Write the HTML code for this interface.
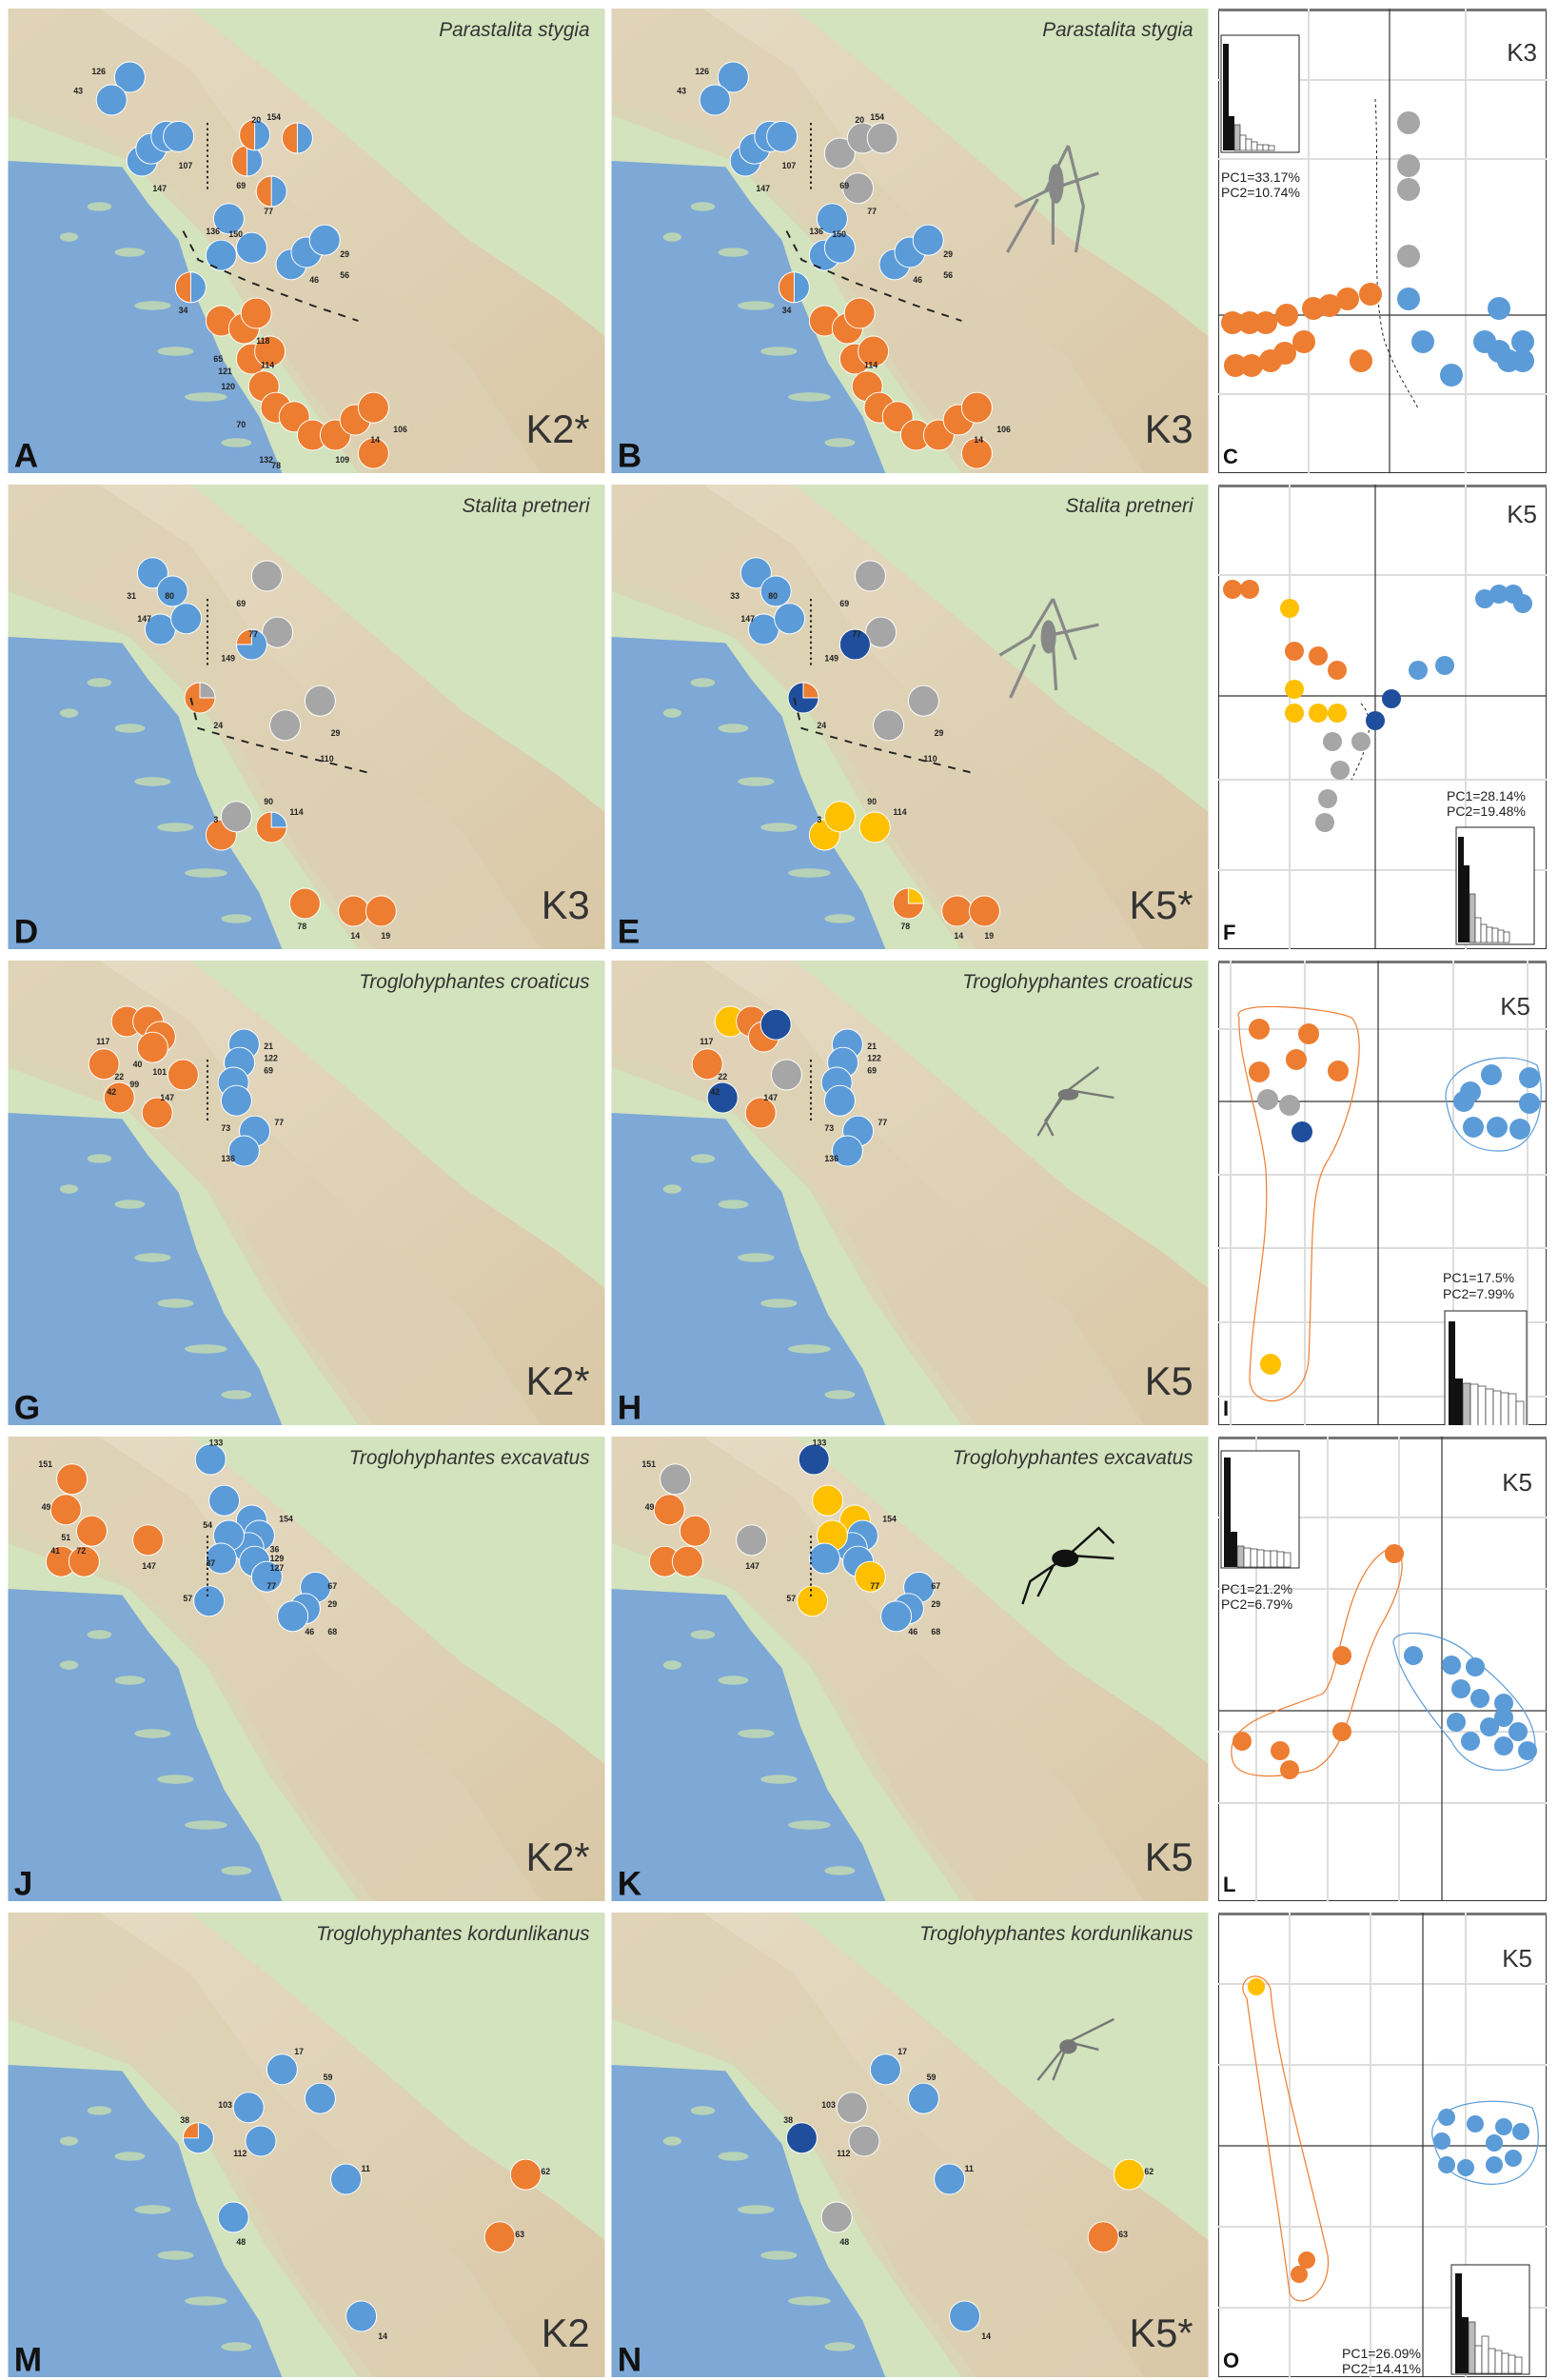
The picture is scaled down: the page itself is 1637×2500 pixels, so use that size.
<!DOCTYPE html><html><head><meta charset="utf-8"><style>
body{margin:0;width:1637px;height:2500px;background:#fff;position:relative;overflow:hidden;font-family:"Liberation Sans",sans-serif}
.p{position:absolute;width:628px;height:488px}
.q{position:absolute;left:1280px;width:345px;height:488px}
svg{display:block}
.sp{font-style:italic;font-size:13px;fill:#333}
.k{font-size:26px;fill:#333}
.L{font-size:22px;font-weight:bold;fill:#111}
.n{font-size:5.5px;font-weight:bold;fill:#222}
.pc{font-size:14px;fill:#222}
</style></head><body>
<svg width="0" height="0" style="position:absolute">
<defs>
<linearGradient id="lg" x1="0" y1="0" x2="1" y2="1"><stop offset="0" stop-color="#e6dcc6"/><stop offset="1" stop-color="#d9c8a6"/></linearGradient>
<symbol id="map" viewBox="0 0 392 305">
<rect width="392" height="305" fill="#d2e3bd"/>
<polygon fill="url(#lg)" points="0,0 120,0 170,40 230,90 300,150 360,190 392,215 392,305 240,305 190,240 150,170 110,120 60,80 0,60"/>
<polygon fill="#ddd0b2" opacity=".7" points="0,0 60,0 120,40 170,110 230,170 300,230 350,305 230,305 170,220 130,150 80,100 0,70"/>
<polygon fill="#7ea8d6" points="0,100 75,104 92,128 112,152 124,190 142,232 165,268 180,305 0,305"/>
<g fill="#c6ddb0" opacity=".8"><ellipse cx="60" cy="130" rx="8" ry="3"/><ellipse cx="80" cy="160" rx="10" ry="3"/><ellipse cx="95" cy="195" rx="12" ry="3"/><ellipse cx="110" cy="225" rx="12" ry="3"/><ellipse cx="130" cy="255" rx="14" ry="3"/><ellipse cx="150" cy="285" rx="10" ry="3"/><ellipse cx="40" cy="150" rx="6" ry="3"/></g>
</symbol>
</defs></svg>

<!-- ROW 1 -->
<div class="p" style="left:8px;top:9px"><svg width="628" height="488" viewBox="0 0 392 305"><use href="#map"/>
<g stroke="#fff" stroke-width=".6">
<circle cx="80" cy="45" r="10" fill="#5b9bd8"/><circle cx="68" cy="60" r="10" fill="#5b9bd8"/>
<circle cx="88" cy="100" r="10" fill="#5b9bd8"/><circle cx="94" cy="92" r="10" fill="#5b9bd8"/><circle cx="104" cy="84" r="10" fill="#5b9bd8"/><circle cx="112" cy="84" r="10" fill="#5b9bd8"/>
<circle cx="157" cy="100" r="10" fill="#5b9bd8"/><path d="M157,90 A10 10 0 0 0 157,110Z" fill="#ed7d31"/>
<circle cx="162" cy="83" r="10" fill="#5b9bd8"/><path d="M162,73 A10 10 0 0 0 162,93Z" fill="#ed7d31"/>
<circle cx="190" cy="85" r="10" fill="#5b9bd8"/><path d="M190,75 A10 10 0 0 0 190,95Z" fill="#ed7d31"/>
<circle cx="173" cy="120" r="10" fill="#5b9bd8"/><path d="M173,110 A10 10 0 0 0 173,130Z" fill="#ed7d31"/>
<circle cx="145" cy="138" r="10" fill="#5b9bd8"/><circle cx="140" cy="162" r="10" fill="#5b9bd8"/><circle cx="160" cy="157" r="10" fill="#5b9bd8"/>
<circle cx="186" cy="168" r="10" fill="#5b9bd8"/><circle cx="196" cy="160" r="10" fill="#5b9bd8"/><circle cx="208" cy="152" r="10" fill="#5b9bd8"/>
<circle cx="120" cy="183" r="10" fill="#5b9bd8"/><path d="M120,173 A10 10 0 0 0 120,193Z" fill="#ed7d31"/>
<circle cx="140" cy="205" r="10" fill="#ed7d31"/><circle cx="155" cy="210" r="10" fill="#ed7d31"/><circle cx="163" cy="200" r="10" fill="#ed7d31"/>
<circle cx="160" cy="230" r="10" fill="#ed7d31"/><circle cx="172" cy="225" r="10" fill="#ed7d31"/><circle cx="168" cy="248" r="10" fill="#ed7d31"/>
<circle cx="176" cy="262" r="10" fill="#ed7d31"/><circle cx="188" cy="268" r="10" fill="#ed7d31"/><circle cx="200" cy="280" r="10" fill="#ed7d31"/><circle cx="215" cy="280" r="10" fill="#ed7d31"/><circle cx="228" cy="270" r="10" fill="#ed7d31"/><circle cx="240" cy="262" r="10" fill="#ed7d31"/><circle cx="240" cy="292" r="10" fill="#ed7d31"/></g>
<path d="M131,75 V120" stroke="#222" stroke-dasharray="1.5,2" stroke-width="1.2"/>
<path d="M115,146 L125,165 L160,180 L200,195 L230,205" stroke="#222" stroke-dasharray="5,5" stroke-width="1.2" fill="none"/>
<g class="n"><text x="55" y="43">126</text><text x="43" y="56">43</text><text x="112" y="105">107</text><text x="95" y="120">147</text><text x="150" y="118">69</text><text x="160" y="75">20</text><text x="170" y="73">154</text><text x="168" y="135">77</text><text x="130" y="148">136</text><text x="145" y="150">150</text><text x="218" y="163">29</text><text x="218" y="177">56</text><text x="198" y="180">46</text><text x="112" y="200">34</text><text x="135" y="232">65</text><text x="138" y="240">121</text><text x="163" y="220">118</text><text x="140" y="250">120</text><text x="166" y="236">114</text><text x="150" y="275">70</text><text x="253" y="278">106</text><text x="165" y="298">132</text><text x="173" y="302">78</text><text x="215" y="298">109</text><text x="238" y="285">14</text></g>
<text class="sp" x="382" y="18" text-anchor="end">Parastalita stygia</text><text class="k" x="382" y="285" text-anchor="end">K2*</text><text class="L" x="4" y="301">A</text></svg></div>

<div class="p" style="left:642px;top:9px"><svg width="628" height="488" viewBox="0 0 392 305"><use href="#map"/>
<g stroke="#fff" stroke-width=".6">
<circle cx="80" cy="45" r="10" fill="#5b9bd8"/><circle cx="68" cy="60" r="10" fill="#5b9bd8"/>
<circle cx="88" cy="100" r="10" fill="#5b9bd8"/><circle cx="94" cy="92" r="10" fill="#5b9bd8"/><circle cx="104" cy="84" r="10" fill="#5b9bd8"/><circle cx="112" cy="84" r="10" fill="#5b9bd8"/>
<circle cx="150" cy="95" r="10" fill="#a6a6a6"/><circle cx="165" cy="85" r="10" fill="#a6a6a6"/><circle cx="178" cy="85" r="10" fill="#a6a6a6"/><circle cx="162" cy="118" r="10" fill="#a6a6a6"/>
<circle cx="145" cy="138" r="10" fill="#5b9bd8"/><circle cx="140" cy="162" r="10" fill="#5b9bd8"/><circle cx="150" cy="157" r="10" fill="#5b9bd8"/>
<circle cx="186" cy="168" r="10" fill="#5b9bd8"/><circle cx="196" cy="160" r="10" fill="#5b9bd8"/><circle cx="208" cy="152" r="10" fill="#5b9bd8"/>
<circle cx="120" cy="183" r="10" fill="#5b9bd8"/><path d="M120,173 A10 10 0 0 0 120,193Z" fill="#ed7d31"/>
<circle cx="140" cy="205" r="10" fill="#ed7d31"/><circle cx="155" cy="210" r="10" fill="#ed7d31"/><circle cx="163" cy="200" r="10" fill="#ed7d31"/>
<circle cx="160" cy="230" r="10" fill="#ed7d31"/><circle cx="172" cy="225" r="10" fill="#ed7d31"/><circle cx="168" cy="248" r="10" fill="#ed7d31"/>
<circle cx="176" cy="262" r="10" fill="#ed7d31"/><circle cx="188" cy="268" r="10" fill="#ed7d31"/><circle cx="200" cy="280" r="10" fill="#ed7d31"/><circle cx="215" cy="280" r="10" fill="#ed7d31"/><circle cx="228" cy="270" r="10" fill="#ed7d31"/><circle cx="240" cy="262" r="10" fill="#ed7d31"/><circle cx="240" cy="292" r="10" fill="#ed7d31"/></g>
<path d="M131,75 V120" stroke="#222" stroke-dasharray="1.5,2" stroke-width="1.2"/>
<path d="M115,146 L125,165 L160,180 L200,195 L230,205" stroke="#222" stroke-dasharray="5,5" stroke-width="1.2" fill="none"/>
<g stroke="#888" stroke-width="2" fill="none"><path d="M300,90 L285,120 L265,130 M300,90 L310,130 L305,160 M285,120 L320,108 M280,125 L260,160 M290,125 L290,155"/><ellipse cx="292" cy="115" rx="4" ry="12" fill="#888"/></g>
<g class="n"><text x="55" y="43">126</text><text x="43" y="56">43</text><text x="112" y="105">107</text><text x="95" y="120">147</text><text x="150" y="118">69</text><text x="160" y="75">20</text><text x="170" y="73">154</text><text x="168" y="135">77</text><text x="130" y="148">136</text><text x="145" y="150">150</text><text x="218" y="163">29</text><text x="218" y="177">56</text><text x="198" y="180">46</text><text x="112" y="200">34</text><text x="166" y="236">114</text><text x="253" y="278">106</text><text x="238" y="285">14</text></g>
<text class="sp" x="382" y="18" text-anchor="end">Parastalita stygia</text><text class="k" x="382" y="285" text-anchor="end">K3</text><text class="L" x="4" y="301">B</text></svg></div>

<div class="q" style="top:9px"><svg width="345" height="488" viewBox="0 0 345 488"><rect x=".5" y=".5" width="344" height="487" fill="#fff" stroke="#333"/><rect width="345" height="3" fill="#777"/>
<g stroke="#ddd" stroke-width="2"><path d="M95,0V488M260,0V488M0,75H345M0,158H345M0,405H345"/></g>
<g stroke="#333" stroke-width="1.2"><path d="M180,0V488M0,322H345"/></g>
<path d="M165,95 C170,180 160,300 175,350 C190,390 200,400 210,420" stroke="#222" stroke-dasharray="3,3" fill="none"/>
<rect x="3" y="28" width="82" height="123" fill="#fff" stroke="#222"/><g fill="#111"><rect x="5" y="37" width="6" height="112"/><rect x="11" y="113" width="6" height="36"/></g><g fill="#fff" stroke="#333" stroke-width=".7"><rect x="17" y="122" width="6" height="27" fill="#bbb"/><rect x="23" y="133" width="6" height="16"/><rect x="29" y="137" width="6" height="12"/><rect x="35" y="140" width="6" height="9"/><rect x="41" y="143" width="6" height="6"/><rect x="47" y="143" width="6" height="6"/><rect x="53" y="144" width="6" height="5"/></g>
<text class="pc" x="3" y="182">PC1=33.17%</text><text class="pc" x="3" y="198">PC2=10.74%</text>
<text class="k" x="335" y="55" text-anchor="end">K3</text>
<g fill="#a6a6a6"><circle cx="200" cy="120" r="12"/><circle cx="200" cy="165" r="12"/><circle cx="200" cy="190" r="12"/><circle cx="200" cy="260" r="12"/></g>
<g fill="#ed7d31"><circle cx="15" cy="330" r="12"/><circle cx="33" cy="330" r="12"/><circle cx="50" cy="330" r="12"/><circle cx="72" cy="322" r="12"/><circle cx="100" cy="315" r="12"/><circle cx="117" cy="312" r="12"/><circle cx="136" cy="305" r="12"/><circle cx="90" cy="350" r="12"/><circle cx="18" cy="375" r="12"/><circle cx="35" cy="375" r="12"/><circle cx="55" cy="370" r="12"/><circle cx="70" cy="362" r="12"/><circle cx="160" cy="300" r="12"/><circle cx="150" cy="370" r="12"/></g>
<g fill="#5b9bd8"><circle cx="200" cy="305" r="12"/><circle cx="215" cy="350" r="12"/><circle cx="295" cy="315" r="12"/><circle cx="280" cy="350" r="12"/><circle cx="295" cy="360" r="12"/><circle cx="305" cy="370" r="12"/><circle cx="320" cy="350" r="12"/><circle cx="320" cy="370" r="12"/><circle cx="245" cy="385" r="12"/></g>
<text class="L" x="5" y="478">C</text></svg></div>

<!-- ROW 2 -->
<div class="p" style="left:8px;top:509px"><svg width="628" height="488" viewBox="0 0 392 305"><use href="#map"/>
<g stroke="#fff" stroke-width=".6"><circle cx="95" cy="58" r="10" fill="#5b9bd8"/><circle cx="108" cy="70" r="10" fill="#5b9bd8"/><circle cx="100" cy="95" r="10" fill="#5b9bd8"/><circle cx="117" cy="88" r="10" fill="#5b9bd8"/>
<circle cx="170" cy="60" r="10" fill="#a6a6a6"/><circle cx="177" cy="97" r="10" fill="#a6a6a6"/><circle cx="160" cy="105" r="10" fill="#5b9bd8"/><path d="M160,95 A10 10 0 0 0 150,105 L160,105Z" fill="#ed7d31"/>
<circle cx="205" cy="142" r="10" fill="#a6a6a6"/><circle cx="182" cy="158" r="10" fill="#a6a6a6"/><circle cx="126" cy="140" r="10" fill="#ed7d31"/><path d="M126,130 A10 10 0 0 1 136,140 L126,140Z" fill="#a6a6a6"/>
<circle cx="140" cy="230" r="10" fill="#ed7d31"/><circle cx="173" cy="225" r="10" fill="#ed7d31"/><path d="M173,215 A10 10 0 0 1 183,225 L173,225Z" fill="#5b9bd8"/><circle cx="150" cy="218" r="10" fill="#a6a6a6"/>
<circle cx="195" cy="275" r="10" fill="#ed7d31"/><circle cx="227" cy="280" r="10" fill="#ed7d31"/><circle cx="245" cy="280" r="10" fill="#ed7d31"/></g>
<path d="M131,75 V120" stroke="#222" stroke-dasharray="1.5,2" stroke-width="1.2"/>
<path d="M120,140 L125,160 L160,170 L200,180 L240,190" stroke="#222" stroke-dasharray="5,5" stroke-width="1.2" fill="none"/>
<g class="n"><text x="78" y="75">31</text><text x="103" y="75">80</text><text x="85" y="90">147</text><text x="150" y="80">69</text><text x="158" y="100">77</text><text x="140" y="116">149</text><text x="135" y="160">24</text><text x="212" y="165">29</text><text x="205" y="182">110</text><text x="135" y="222">3</text><text x="168" y="210">90</text><text x="185" y="217">114</text><text x="190" y="292">78</text><text x="225" y="298">14</text><text x="245" y="298">19</text></g>
<text class="sp" x="382" y="18" text-anchor="end">Stalita pretneri</text><text class="k" x="382" y="285" text-anchor="end">K3</text><text class="L" x="4" y="301">D</text></svg></div>

<div class="p" style="left:642px;top:509px"><svg width="628" height="488" viewBox="0 0 392 305"><use href="#map"/>
<g stroke="#fff" stroke-width=".6"><circle cx="95" cy="58" r="10" fill="#5b9bd8"/><circle cx="108" cy="70" r="10" fill="#5b9bd8"/><circle cx="100" cy="95" r="10" fill="#5b9bd8"/><circle cx="117" cy="88" r="10" fill="#5b9bd8"/>
<circle cx="170" cy="60" r="10" fill="#a6a6a6"/><circle cx="177" cy="97" r="10" fill="#a6a6a6"/><circle cx="160" cy="105" r="10" fill="#1f4e9c"/><circle cx="126" cy="140" r="10" fill="#1f4e9c"/><path d="M126,130 A10 10 0 0 1 136,140 L126,140Z" fill="#ed7d31"/>
<circle cx="205" cy="142" r="10" fill="#a6a6a6"/><circle cx="182" cy="158" r="10" fill="#a6a6a6"/>
<circle cx="140" cy="230" r="10" fill="#ffc000"/><circle cx="173" cy="225" r="10" fill="#ffc000"/><circle cx="150" cy="218" r="10" fill="#ffc000"/>
<circle cx="195" cy="275" r="10" fill="#ed7d31"/><path d="M195,265 A10 10 0 0 1 205,275 L195,275Z" fill="#ffc000"/><circle cx="227" cy="280" r="10" fill="#ed7d31"/><circle cx="245" cy="280" r="10" fill="#ed7d31"/></g>
<path d="M131,75 V120" stroke="#222" stroke-dasharray="1.5,2" stroke-width="1.2"/>
<path d="M120,140 L125,160 L160,170 L200,180 L240,190" stroke="#222" stroke-dasharray="5,5" stroke-width="1.2" fill="none"/>
<g stroke="#888" stroke-width="2" fill="none"><path d="M290,75 L275,100 L255,112 M290,75 L305,115 M283,100 L320,92 M278,105 L262,140 M290,105 L292,135"/><ellipse cx="287" cy="100" rx="4" ry="10" fill="#888"/></g>
<g class="n"><text x="78" y="75">33</text><text x="103" y="75">80</text><text x="85" y="90">147</text><text x="150" y="80">69</text><text x="158" y="100">77</text><text x="140" y="116">149</text><text x="135" y="160">24</text><text x="212" y="165">29</text><text x="205" y="182">110</text><text x="135" y="222">3</text><text x="168" y="210">90</text><text x="185" y="217">114</text><text x="190" y="292">78</text><text x="225" y="298">14</text><text x="245" y="298">19</text></g>
<text class="sp" x="382" y="18" text-anchor="end">Stalita pretneri</text><text class="k" x="382" y="285" text-anchor="end">K5*</text><text class="L" x="4" y="301">E</text></svg></div>

<div class="q" style="top:509px"><svg width="345" height="488" viewBox="0 0 345 488"><rect x=".5" y=".5" width="344" height="487" fill="#fff" stroke="#333"/><rect width="345" height="3" fill="#777"/>
<g stroke="#ddd" stroke-width="2"><path d="M75,0V488M260,0V488M0,95H345M0,310H345M0,405H345"/></g>
<g stroke="#333" stroke-width="1.2"><path d="M165,0V488M0,222H345"/></g>
<path d="M150,230 C170,250 150,290 140,310" stroke="#222" stroke-dasharray="3,3" fill="none"/>
<text class="k" x="335" y="40" text-anchor="end">K5</text>
<g fill="#ed7d31"><circle cx="15" cy="110" r="10"/><circle cx="33" cy="110" r="10"/><circle cx="80" cy="175" r="10"/><circle cx="105" cy="180" r="10"/><circle cx="125" cy="195" r="10"/></g>
<g fill="#ffc000"><circle cx="75" cy="130" r="10"/><circle cx="80" cy="215" r="10"/><circle cx="80" cy="240" r="10"/><circle cx="105" cy="240" r="10"/><circle cx="125" cy="240" r="10"/></g>
<g fill="#5b9bd8"><circle cx="280" cy="120" r="10"/><circle cx="295" cy="115" r="10"/><circle cx="310" cy="115" r="10"/><circle cx="320" cy="125" r="10"/><circle cx="238" cy="190" r="10"/><circle cx="210" cy="195" r="10"/></g>
<g fill="#1f4e9c"><circle cx="182" cy="225" r="10"/><circle cx="165" cy="248" r="10"/></g>
<g fill="#a6a6a6"><circle cx="120" cy="270" r="10"/><circle cx="150" cy="270" r="10"/><circle cx="128" cy="300" r="10"/><circle cx="115" cy="330" r="10"/><circle cx="112" cy="355" r="10"/></g>
<text class="pc" x="240" y="332">PC1=28.14%</text><text class="pc" x="240" y="348">PC2=19.48%</text>
<rect x="250" y="360" width="82" height="123" fill="#fff" stroke="#222"/><g fill="#111"><rect x="252" y="370" width="6" height="111"/><rect x="258" y="400" width="6" height="81"/></g><g fill="#fff" stroke="#333" stroke-width=".7"><rect x="264" y="430" width="6" height="51" fill="#bbb"/><rect x="270" y="455" width="6" height="26"/><rect x="276" y="462" width="6" height="19"/><rect x="282" y="465" width="6" height="16"/><rect x="288" y="466" width="6" height="15"/><rect x="294" y="468" width="6" height="13"/><rect x="300" y="470" width="6" height="11"/></g>
<text class="L" x="5" y="478">F</text></svg></div>

<!-- ROW 3 -->
<div class="p" style="left:8px;top:1009px"><svg width="628" height="488" viewBox="0 0 392 305"><use href="#map"/>
<g stroke="#fff" stroke-width=".6" fill="#ed7d31"><circle cx="78" cy="40" r="10"/><circle cx="92" cy="40" r="10"/><circle cx="100" cy="50" r="10"/><circle cx="95" cy="57" r="10"/><circle cx="63" cy="68" r="10"/><circle cx="115" cy="75" r="10"/><circle cx="73" cy="90" r="10"/><circle cx="98" cy="100" r="10"/></g>
<g stroke="#fff" stroke-width=".6" fill="#5b9bd8"><circle cx="155" cy="55" r="10"/><circle cx="152" cy="67" r="10"/><circle cx="148" cy="80" r="10"/><circle cx="150" cy="92" r="10"/><circle cx="162" cy="112" r="10"/><circle cx="155" cy="125" r="10"/></g>
<path d="M131,65 V105" stroke="#222" stroke-dasharray="1.5,2" stroke-width="1.2"/>
<g class="n"><text x="58" y="55">117</text><text x="82" y="70">40</text><text x="70" y="78">22</text><text x="95" y="75">101</text><text x="80" y="83">99</text><text x="65" y="88">42</text><text x="100" y="92">147</text><text x="168" y="58">21</text><text x="168" y="66">122</text><text x="168" y="74">69</text><text x="140" y="112">73</text><text x="175" y="108">77</text><text x="140" y="132">136</text></g>
<text class="sp" x="382" y="18" text-anchor="end">Troglohyphantes croaticus</text><text class="k" x="382" y="285" text-anchor="end">K2*</text><text class="L" x="4" y="301">G</text></svg></div>

<div class="p" style="left:642px;top:1009px"><svg width="628" height="488" viewBox="0 0 392 305"><use href="#map"/>
<g stroke="#fff" stroke-width=".6"><circle cx="78" cy="40" r="10" fill="#ffc000"/><circle cx="92" cy="40" r="10" fill="#ed7d31"/><circle cx="100" cy="50" r="10" fill="#ed7d31"/><circle cx="108" cy="42" r="10" fill="#1f4e9c"/><circle cx="63" cy="68" r="10" fill="#ed7d31"/><circle cx="115" cy="75" r="10" fill="#a6a6a6"/><circle cx="73" cy="90" r="10" fill="#1f4e9c"/><circle cx="98" cy="100" r="10" fill="#ed7d31"/></g>
<g stroke="#fff" stroke-width=".6" fill="#5b9bd8"><circle cx="155" cy="55" r="10"/><circle cx="152" cy="67" r="10"/><circle cx="148" cy="80" r="10"/><circle cx="150" cy="92" r="10"/><circle cx="162" cy="112" r="10"/><circle cx="155" cy="125" r="10"/></g>
<path d="M131,65 V105" stroke="#222" stroke-dasharray="1.5,2" stroke-width="1.2"/>
<g stroke="#777" stroke-width="1.5" fill="none"><path d="M300,85 L320,70 M300,85 L285,105 L290,115 M300,85 L330,90 M295,90 L280,115"/><ellipse cx="300" cy="88" rx="6" ry="3" fill="#777"/></g>
<g class="n"><text x="58" y="55">117</text><text x="70" y="78">22</text><text x="65" y="88">42</text><text x="100" y="92">147</text><text x="168" y="58">21</text><text x="168" y="66">122</text><text x="168" y="74">69</text><text x="140" y="112">73</text><text x="175" y="108">77</text><text x="140" y="132">136</text></g>
<text class="sp" x="382" y="18" text-anchor="end">Troglohyphantes croaticus</text><text class="k" x="382" y="285" text-anchor="end">K5</text><text class="L" x="4" y="301">H</text></svg></div>

<div class="q" style="top:1009px"><svg width="345" height="488" viewBox="0 0 345 488"><rect x=".5" y=".5" width="344" height="487" fill="#fff" stroke="#333"/><rect width="345" height="3" fill="#777"/>
<g stroke="#ddd" stroke-width="2"><path d="M13,0V488M91,0V488M247,0V488M325,0V488M0,72H345M0,225H345M0,302H345M0,380H345M0,458H345"/></g>
<g stroke="#333" stroke-width="1.2"><path d="M168,0V488M0,148H345"/></g>
<path d="M22,60 C10,40 120,50 140,60 C160,80 140,170 115,210 C95,240 100,300 95,420 C90,470 35,475 33,440 C35,360 55,300 50,220 C45,170 20,100 22,60Z" fill="none" stroke="#ed7d31" stroke-width="1.2"/>
<path d="M240,150 C230,110 300,90 335,110 C345,140 340,200 295,200 C260,200 245,180 240,150Z" fill="none" stroke="#5b9bd8" stroke-width="1.2"/>
<g fill="#ed7d31"><circle cx="43" cy="72" r="11"/><circle cx="95" cy="77" r="11"/><circle cx="82" cy="104" r="11"/><circle cx="43" cy="117" r="11"/><circle cx="126" cy="116" r="11"/></g>
<g fill="#a6a6a6"><circle cx="52" cy="146" r="11"/><circle cx="75" cy="152" r="11"/></g><circle cx="88" cy="180" r="11" fill="#1f4e9c"/><circle cx="55" cy="424" r="11" fill="#ffc000"/>
<g fill="#5b9bd8"><circle cx="287" cy="120" r="11"/><circle cx="327" cy="123" r="11"/><circle cx="265" cy="138" r="11"/><circle cx="327" cy="150" r="11"/><circle cx="268" cy="175" r="11"/><circle cx="293" cy="175" r="11"/><circle cx="317" cy="177" r="11"/><circle cx="258" cy="148" r="11"/></g>
<text class="k" x="328" y="57" text-anchor="end">K5</text>
<text class="pc" x="236" y="338">PC1=17.5%</text><text class="pc" x="236" y="355">PC2=7.99%</text>
<rect x="238" y="368" width="86" height="122" fill="#fff" stroke="#222"/><g fill="#111"><rect x="242" y="379" width="7" height="110"/><rect x="249" y="439" width="8" height="50"/></g><g fill="#fff" stroke="#333" stroke-width=".7"><rect x="257" y="444" width="8" height="45" fill="#bbb"/><rect x="265" y="445" width="8" height="44"/><rect x="273" y="447" width="8" height="42"/><rect x="281" y="450" width="8" height="39"/><rect x="289" y="452" width="8" height="37"/><rect x="297" y="454" width="8" height="35"/><rect x="305" y="455" width="8" height="34"/><rect x="313" y="463" width="8" height="26"/></g>
<text class="L" x="5" y="478">I</text></svg></div>

<!-- ROW 4 -->
<div class="p" style="left:8px;top:1509px"><svg width="628" height="488" viewBox="0 0 392 305"><use href="#map"/>
<g stroke="#fff" stroke-width=".6" fill="#ed7d31"><circle cx="42" cy="28" r="10"/><circle cx="38" cy="48" r="10"/><circle cx="55" cy="62" r="10"/><circle cx="35" cy="82" r="10"/><circle cx="50" cy="82" r="10"/><circle cx="92" cy="68" r="10"/></g>
<g stroke="#fff" stroke-width=".6" fill="#5b9bd8"><circle cx="133" cy="15" r="10"/><circle cx="142" cy="42" r="10"/><circle cx="160" cy="55" r="10"/><circle cx="165" cy="65" r="10"/><circle cx="158" cy="73" r="10"/><circle cx="162" cy="82" r="10"/><circle cx="145" cy="65" r="10"/><circle cx="140" cy="80" r="10"/><circle cx="170" cy="92" r="10"/><circle cx="132" cy="108" r="10"/><circle cx="202" cy="99" r="10"/><circle cx="195" cy="113" r="10"/><circle cx="187" cy="118" r="10"/></g>
<path d="M131,65 V105" stroke="#222" stroke-dasharray="1.5,2" stroke-width="1.2"/>
<g class="n"><text x="132" y="6">133</text><text x="20" y="20">151</text><text x="22" y="48">49</text><text x="35" y="68">51</text><text x="28" y="77">41</text><text x="45" y="77">72</text><text x="88" y="87">147</text><text x="128" y="60">54</text><text x="178" y="56">154</text><text x="172" y="76">36</text><text x="172" y="82">129</text><text x="172" y="88">127</text><text x="170" y="100">77</text><text x="130" y="85">37</text><text x="115" y="108">57</text><text x="210" y="100">67</text><text x="210" y="112">29</text><text x="195" y="130">46</text><text x="210" y="130">68</text></g>
<text class="sp" x="382" y="18" text-anchor="end">Troglohyphantes excavatus</text><text class="k" x="382" y="285" text-anchor="end">K2*</text><text class="L" x="4" y="301">J</text></svg></div>

<div class="p" style="left:642px;top:1509px"><svg width="628" height="488" viewBox="0 0 392 305"><use href="#map"/>
<g stroke="#fff" stroke-width=".6"><circle cx="42" cy="28" r="10" fill="#a6a6a6"/><circle cx="38" cy="48" r="10" fill="#ed7d31"/><circle cx="55" cy="62" r="10" fill="#ed7d31"/><circle cx="35" cy="82" r="10" fill="#ed7d31"/><circle cx="50" cy="82" r="10" fill="#ed7d31"/><circle cx="92" cy="68" r="10" fill="#a6a6a6"/>
<circle cx="133" cy="15" r="10" fill="#1f4e9c"/><circle cx="142" cy="42" r="10" fill="#ffc000"/><circle cx="160" cy="55" r="10" fill="#ffc000"/><circle cx="165" cy="65" r="10" fill="#5b9bd8"/><circle cx="158" cy="73" r="10" fill="#5b9bd8"/><circle cx="162" cy="82" r="10" fill="#5b9bd8"/><circle cx="145" cy="65" r="10" fill="#ffc000"/><circle cx="140" cy="80" r="10" fill="#5b9bd8"/><circle cx="170" cy="92" r="10" fill="#ffc000"/><circle cx="132" cy="108" r="10" fill="#ffc000"/><circle cx="202" cy="99" r="10" fill="#5b9bd8"/><circle cx="195" cy="113" r="10" fill="#5b9bd8"/><circle cx="187" cy="118" r="10" fill="#5b9bd8"/></g>
<path d="M131,65 V105" stroke="#222" stroke-dasharray="1.5,2" stroke-width="1.2"/>
<g stroke="#111" stroke-width="1.5" fill="none"><path d="M300,78 L320,60 L330,70 M300,78 L275,95 L270,110 M300,78 L330,80 M290,85 L280,105"/><ellipse cx="298" cy="80" rx="8" ry="5" fill="#111"/></g>
<g class="n"><text x="132" y="6">133</text><text x="20" y="20">151</text><text x="22" y="48">49</text><text x="88" y="87">147</text><text x="178" y="56">154</text><text x="170" y="100">77</text><text x="115" y="108">57</text><text x="210" y="100">67</text><text x="210" y="112">29</text><text x="195" y="130">46</text><text x="210" y="130">68</text></g>
<text class="sp" x="382" y="18" text-anchor="end">Troglohyphantes excavatus</text><text class="k" x="382" y="285" text-anchor="end">K5</text><text class="L" x="4" y="301">K</text></svg></div>

<div class="q" style="top:1509px"><svg width="345" height="488" viewBox="0 0 345 488"><rect x=".5" y=".5" width="344" height="487" fill="#fff" stroke="#333"/><rect width="345" height="3" fill="#777"/>
<g stroke="#ddd" stroke-width="2"><path d="M40,0V488M115,0V488M190,0V488M0,85H345M0,160H345M0,310H345M0,385H345"/></g>
<g stroke="#333" stroke-width="1.2"><path d="M235,0V488M0,288H345"/></g>
<rect x="3" y="15" width="82" height="123" fill="#fff" stroke="#222"/><g fill="#111"><rect x="6" y="22" width="7" height="115"/><rect x="13" y="100" width="7" height="37"/></g><g fill="#fff" stroke="#333" stroke-width=".7"><rect x="20" y="115" width="7" height="22" fill="#bbb"/><rect x="27" y="117" width="7" height="20"/><rect x="34" y="118" width="7" height="19"/><rect x="41" y="119" width="7" height="18"/><rect x="48" y="120" width="7" height="17"/><rect x="55" y="120" width="7" height="17"/><rect x="62" y="121" width="7" height="16"/><rect x="69" y="122" width="7" height="15"/></g>
<text class="pc" x="3" y="165">PC1=21.2%</text><text class="pc" x="3" y="181">PC2=6.79%</text>
<text class="k" x="330" y="57" text-anchor="end">K5</text>
<path d="M15,340 C5,300 60,290 110,270 C130,250 130,150 175,120 C200,110 200,150 170,200 C140,260 140,330 100,350 C60,360 20,360 15,340Z" fill="none" stroke="#ed7d31" stroke-width="1.2"/>
<path d="M185,220 C175,200 240,200 270,235 C300,260 345,300 330,340 C300,360 260,350 245,320 C220,290 190,250 185,220Z" fill="none" stroke="#5b9bd8" stroke-width="1.2"/>
<g fill="#ed7d31"><circle cx="185" cy="123" r="10"/><circle cx="130" cy="230" r="10"/><circle cx="25" cy="320" r="10"/><circle cx="65" cy="330" r="10"/><circle cx="75" cy="350" r="10"/><circle cx="130" cy="310" r="10"/></g>
<g fill="#5b9bd8"><circle cx="205" cy="230" r="10"/><circle cx="245" cy="240" r="10"/><circle cx="270" cy="242" r="10"/><circle cx="255" cy="265" r="10"/><circle cx="275" cy="275" r="10"/><circle cx="300" cy="280" r="10"/><circle cx="300" cy="295" r="10"/><circle cx="250" cy="300" r="10"/><circle cx="285" cy="305" r="10"/><circle cx="315" cy="310" r="10"/><circle cx="265" cy="320" r="10"/><circle cx="300" cy="325" r="10"/><circle cx="325" cy="330" r="10"/></g>
<text class="L" x="5" y="478">L</text></svg></div>

<!-- ROW 5 -->
<div class="p" style="left:8px;top:2009px"><svg width="628" height="488" viewBox="0 0 392 305"><use href="#map"/>
<g stroke="#fff" stroke-width=".6"><circle cx="125" cy="148" r="10" fill="#5b9bd8"/><path d="M125,138 A10 10 0 0 0 115,148 L125,148Z" fill="#ed7d31"/><circle cx="158" cy="128" r="10" fill="#5b9bd8"/><circle cx="180" cy="103" r="10" fill="#5b9bd8"/><circle cx="205" cy="122" r="10" fill="#5b9bd8"/><circle cx="166" cy="150" r="10" fill="#5b9bd8"/><circle cx="222" cy="175" r="10" fill="#5b9bd8"/><circle cx="148" cy="200" r="10" fill="#5b9bd8"/><circle cx="232" cy="265" r="10" fill="#5b9bd8"/><circle cx="340" cy="172" r="10" fill="#ed7d31"/><circle cx="323" cy="213" r="10" fill="#ed7d31"/></g>
<g class="n"><text x="113" y="138">38</text><text x="138" y="128">103</text><text x="148" y="160">112</text><text x="188" y="93">17</text><text x="207" y="110">59</text><text x="232" y="170">11</text><text x="150" y="218">48</text><text x="243" y="280">14</text><text x="350" y="172">62</text><text x="333" y="213">63</text></g>
<text class="sp" x="382" y="18" text-anchor="end">Troglohyphantes kordunlikanus</text><text class="k" x="382" y="285" text-anchor="end">K2</text><text class="L" x="4" y="301">M</text></svg></div>

<div class="p" style="left:642px;top:2009px"><svg width="628" height="488" viewBox="0 0 392 305"><use href="#map"/>
<g stroke="#fff" stroke-width=".6"><circle cx="125" cy="148" r="10" fill="#1f4e9c"/><circle cx="158" cy="128" r="10" fill="#a6a6a6"/><circle cx="180" cy="103" r="10" fill="#5b9bd8"/><circle cx="205" cy="122" r="10" fill="#5b9bd8"/><circle cx="166" cy="150" r="10" fill="#a6a6a6"/><circle cx="222" cy="175" r="10" fill="#5b9bd8"/><circle cx="148" cy="200" r="10" fill="#a6a6a6"/><circle cx="232" cy="265" r="10" fill="#5b9bd8"/><circle cx="340" cy="172" r="10" fill="#ffc000"/><circle cx="323" cy="213" r="10" fill="#ed7d31"/></g>
<g stroke="#777" stroke-width="1.5" fill="none"><path d="M300,85 L330,70 M300,85 L320,90 M300,85 L280,110 M300,85 L290,110"/><ellipse cx="300" cy="88" rx="5" ry="4" fill="#777"/></g>
<g class="n"><text x="113" y="138">38</text><text x="138" y="128">103</text><text x="148" y="160">112</text><text x="188" y="93">17</text><text x="207" y="110">59</text><text x="232" y="170">11</text><text x="150" y="218">48</text><text x="243" y="280">14</text><text x="350" y="172">62</text><text x="333" y="213">63</text></g>
<text class="sp" x="382" y="18" text-anchor="end">Troglohyphantes kordunlikanus</text><text class="k" x="382" y="285" text-anchor="end">K5*</text><text class="L" x="4" y="301">N</text></svg></div>

<div class="q" style="top:2009px"><svg width="345" height="488" viewBox="0 0 345 488"><rect x=".5" y=".5" width="344" height="487" fill="#fff" stroke="#333"/><rect width="345" height="3" fill="#777"/>
<g stroke="#ddd" stroke-width="2"><path d="M75,0V488M160,0V488M260,0V488M0,75H345M0,160H345M0,330H345M0,415H345"/></g>
<g stroke="#333" stroke-width="1.2"><path d="M215,0V488M0,245H345"/></g>
<text class="k" x="330" y="57" text-anchor="end">K5</text>
<path d="M30,90 C15,70 45,55 55,80 C60,150 90,250 115,360 C120,400 85,420 75,400 C65,320 45,200 30,90Z" fill="none" stroke="#ed7d31" stroke-width="1.2"/>
<path d="M225,235 C220,200 290,190 330,205 C345,240 335,290 280,285 C240,280 230,260 225,235Z" fill="none" stroke="#5b9bd8" stroke-width="1.2"/>
<circle cx="40" cy="78" r="9" fill="#ffc000"/><circle cx="93" cy="365" r="9" fill="#ed7d31"/><circle cx="85" cy="380" r="9" fill="#ed7d31"/>
<g fill="#5b9bd8"><circle cx="240" cy="215" r="9"/><circle cx="270" cy="222" r="9"/><circle cx="300" cy="225" r="9"/><circle cx="318" cy="230" r="9"/><circle cx="235" cy="240" r="9"/><circle cx="290" cy="242" r="9"/><circle cx="240" cy="265" r="9"/><circle cx="260" cy="268" r="9"/><circle cx="290" cy="265" r="9"/><circle cx="310" cy="258" r="9"/></g>
<rect x="245" y="370" width="82" height="115" fill="#fff" stroke="#222"/><g fill="#111"><rect x="249" y="379" width="7" height="105"/><rect x="256" y="425" width="7" height="59"/></g><g fill="#fff" stroke="#333" stroke-width=".7"><rect x="263" y="430" width="7" height="54" fill="#bbb"/><rect x="270" y="455" width="7" height="29"/><rect x="277" y="445" width="7" height="39"/><rect x="284" y="458" width="7" height="26"/><rect x="291" y="460" width="7" height="24"/><rect x="298" y="463" width="7" height="21"/><rect x="305" y="465" width="7" height="19"/><rect x="312" y="467" width="7" height="17"/></g>
<text class="pc" x="130" y="468">PC1=26.09%</text><text class="pc" x="130" y="484">PC2=14.41%</text>
<text class="L" x="5" y="478">O</text></svg></div>
</body></html>
